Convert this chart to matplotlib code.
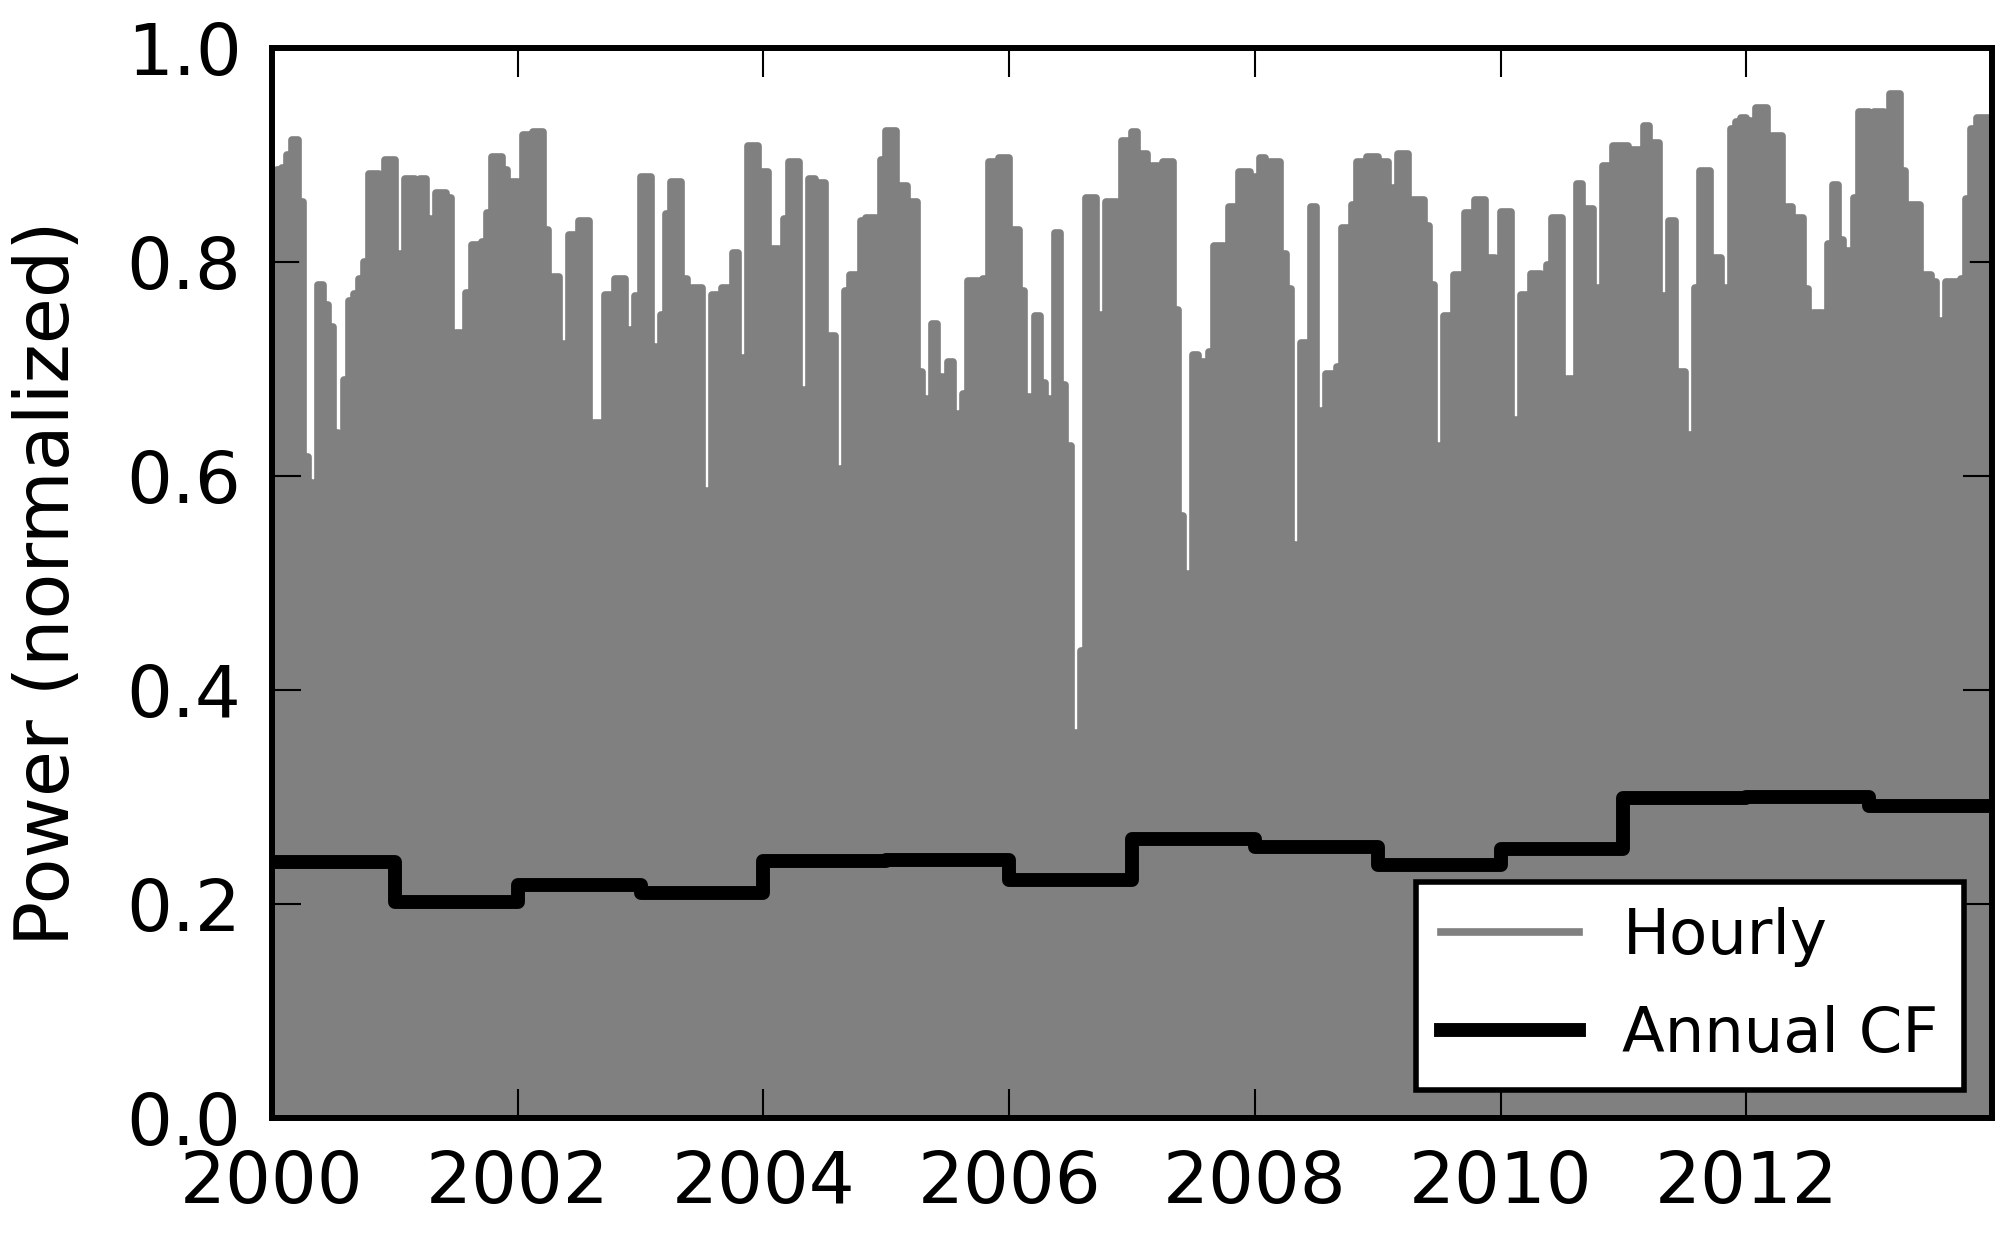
import numpy as np
import matplotlib
matplotlib.use("Agg")
import matplotlib.pyplot as plt

# upper envelope of the hourly series, half-month bins (24 per year)
peak_2000 = [0.88, 0.886, 0.888, 0.90, 0.914, 0.856, 0.618, 0.593, 0.57, 0.778, 0.76, 0.739,
             0.64, 0.638, 0.69, 0.763, 0.77, 0.784, 0.80, 0.882, 0.882, 0.82, 0.895, 0.895]
peak_2001 = [0.736, 0.807, 0.877, 0.877, 0.742, 0.877, 0.84, 0.46, 0.864, 0.864, 0.86, 0.589,
             0.734, 0.524, 0.771, 0.816, 0.816, 0.819, 0.846, 0.898, 0.898, 0.886, 0.875, 0.875]
peak_2002 = [0.864, 0.919, 0.919, 0.921, 0.921, 0.83, 0.659, 0.786, 0.723, 0.717, 0.825, 0.825,
             0.838, 0.838, 0.524, 0.649, 0.649, 0.769, 0.769, 0.784, 0.784, 0.70, 0.736, 0.768]
peak_2003 = [0.879, 0.879, 0.72, 0.57, 0.75, 0.845, 0.875, 0.875, 0.784, 0.60, 0.776, 0.776,
             0.586, 0.293, 0.769, 0.769, 0.776, 0.776, 0.808, 0.70, 0.71, 0.908, 0.908, 0.884]
peak_2004 = [0.884, 0.812, 0.812, 0.687, 0.84, 0.893, 0.893, 0.641, 0.68, 0.877, 0.874, 0.874,
             0.731, 0.731, 0.38, 0.606, 0.773, 0.788, 0.788, 0.838, 0.841, 0.841, 0.815, 0.895]
peak_2005 = [0.922, 0.922, 0.871, 0.871, 0.856, 0.856, 0.697, 0.672, 0.654, 0.742, 0.692, 0.618,
             0.706, 0.56, 0.658, 0.677, 0.782, 0.782, 0.622, 0.784, 0.893, 0.893, 0.897, 0.897]
peak_2006 = [0.83, 0.83, 0.773, 0.674, 0.654, 0.749, 0.687, 0.672, 0.618, 0.827, 0.685, 0.628,
             0.36, 0.36, 0.436, 0.86, 0.86, 0.613, 0.75, 0.856, 0.856, 0.821, 0.913, 0.913]
peak_2007 = [0.921, 0.901, 0.901, 0.784, 0.89, 0.89, 0.893, 0.893, 0.755, 0.563, 0.508, 0.45,
             0.713, 0.706, 0.706, 0.716, 0.815, 0.815, 0.703, 0.851, 0.851, 0.884, 0.884, 0.869]
peak_2008 = [0.879, 0.897, 0.888, 0.893, 0.893, 0.807, 0.775, 0.535, 0.462, 0.724, 0.724, 0.851,
             0.563, 0.661, 0.695, 0.695, 0.702, 0.832, 0.832, 0.853, 0.893, 0.893, 0.898, 0.898]
peak_2009 = [0.893, 0.893, 0.802, 0.869, 0.901, 0.901, 0.697, 0.858, 0.858, 0.834, 0.778, 0.628,
             0.609, 0.749, 0.749, 0.788, 0.788, 0.846, 0.846, 0.858, 0.858, 0.804, 0.804, 0.703]
peak_2010 = [0.847, 0.847, 0.652, 0.641, 0.769, 0.769, 0.789, 0.789, 0.76, 0.797, 0.841, 0.841,
             0.618, 0.691, 0.691, 0.873, 0.849, 0.849, 0.752, 0.776, 0.89, 0.89, 0.908, 0.908]
peak_2011 = [0.908, 0.905, 0.905, 0.905, 0.927, 0.911, 0.911, 0.768, 0.768, 0.838, 0.697, 0.697,
             0.638, 0.638, 0.776, 0.885, 0.885, 0.804, 0.804, 0.776, 0.586, 0.924, 0.931, 0.934]
peak_2012 = [0.932, 0.872, 0.944, 0.944, 0.801, 0.918, 0.918, 0.732, 0.851, 0.841, 0.841, 0.775,
             0.703, 0.752, 0.752, 0.745, 0.817, 0.872, 0.82, 0.81, 0.81, 0.86, 0.94, 0.94]
peak_2013 = [0.914, 0.94, 0.94, 0.918, 0.957, 0.957, 0.885, 0.853, 0.853, 0.853, 0.788, 0.788,
             0.781, 0.667, 0.745, 0.781, 0.781, 0.781, 0.784, 0.859, 0.924, 0.934, 0.934, 0.934]

years = [2000, 2001, 2002, 2003, 2004, 2005, 2006, 2007, 2008, 2009, 2010, 2011, 2012, 2013]
annual_cf = [0.239, 0.202, 0.218, 0.210, 0.240, 0.241, 0.222, 0.261, 0.253, 0.236, 0.251,
             0.299, 0.300, 0.292]

peaks = np.array(peak_2000 + peak_2001 + peak_2002 + peak_2003 + peak_2004 + peak_2005 +
                 peak_2006 + peak_2007 + peak_2008 + peak_2009 + peak_2010 + peak_2011 +
                 peak_2012 + peak_2013)
edges = years[0] + np.arange(len(peaks) + 1) / 24.0
peaks_ext = np.append(peaks, peaks[-1])

fig = plt.figure(figsize=(20.07, 12.40), dpi=100)
ax = fig.add_axes([0.1355, 0.0984, 0.857, 0.863])

ax.fill_between(edges, 0, peaks_ext, step='post', color='0.5', lw=0)
ax.step(edges, peaks_ext, where='post', color='0.5', lw=5.5, solid_joinstyle='round',
        label='Hourly')

yr_edges = years + [years[-1] + 1]
ax.step(yr_edges, annual_cf + [annual_cf[-1]], where='post', color='black', lw=10,
        solid_joinstyle='round', label='Annual CF')

ax.set_xlim(2000, 2014)
ax.set_ylim(0, 1.0)
ax.set_xticks([2000, 2002, 2004, 2006, 2008, 2010, 2012])
ax.set_yticks([0.0, 0.2, 0.4, 0.6, 0.8, 1.0])
ax.set_yticklabels(['0.0', '0.2', '0.4', '0.6', '0.8', '1.0'])
ax.tick_params(direction='in', length=21, width=1.5, top=True, right=True,
               labelsize=52, pad=22)
for s in ax.spines.values():
    s.set_linewidth(4.3)
ax.set_ylabel('Power (normalized)', fontsize=54, labelpad=30)

leg = ax.legend(loc='lower right', fontsize=45, fancybox=False, framealpha=1,
                edgecolor='black', handlelength=2.2, handletextpad=0.7,
                borderpad=0.4, borderaxespad=0.45, labelspacing=0.6)
leg.get_frame().set_linewidth(4)

fig.savefig('out.png', dpi=100)
